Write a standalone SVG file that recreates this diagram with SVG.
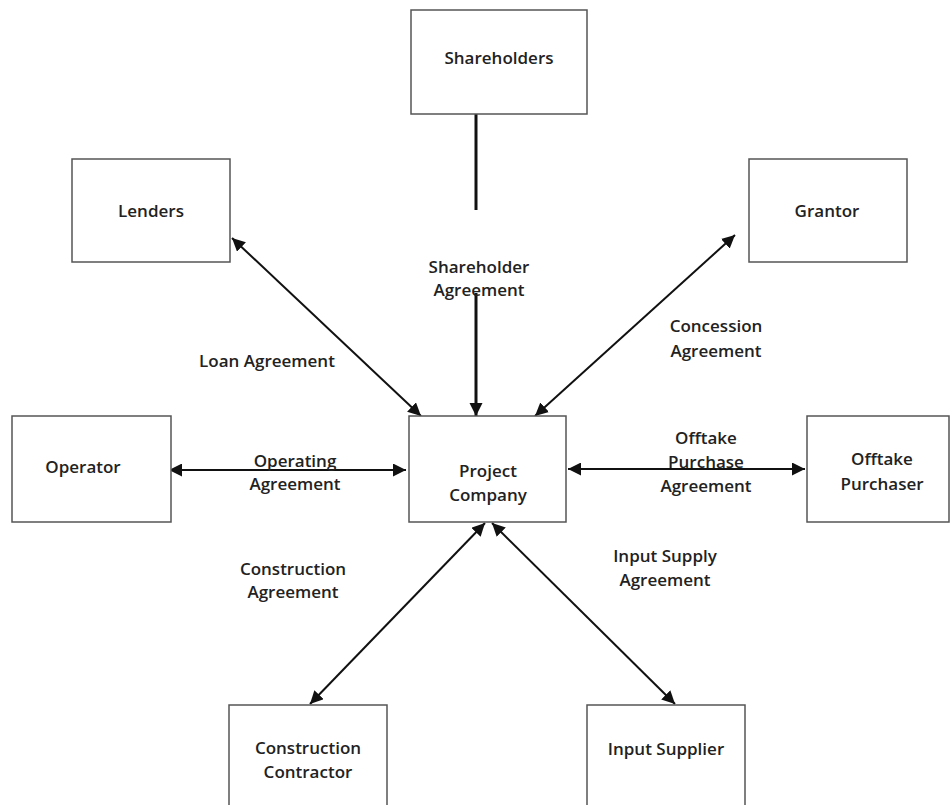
<svg xmlns="http://www.w3.org/2000/svg" width="952" height="805" viewBox="0 0 952 805">
<defs>
<marker id="ah" viewBox="0 0 10 10" refX="10" refY="5" markerWidth="6.5" markerHeight="6.5" orient="auto-start-reverse" markerUnits="strokeWidth">
<path d="M0,0 L10,5 L0,10 z" fill="#111"/>
</marker>
<marker id="ah2" viewBox="0 0 10 10" refX="10" refY="5" markerWidth="4.5" markerHeight="4.5" orient="auto-start-reverse" markerUnits="strokeWidth">
<path d="M0,0 L10,5 L0,10 z" fill="#111"/>
</marker>
</defs>
<style>
.box{fill:#fff;stroke:#555;stroke-width:1.5}
.t{font-family:"Open Sans","Liberation Sans",sans-serif;font-size:17px;font-weight:600;fill:#222;text-anchor:middle;dominant-baseline:central}
.c{stroke:#111;stroke-width:2;fill:none}
</style>
<rect width="952" height="805" fill="#fff"/>
<g id="connectors">
<line class="c" x1="476" y1="114" x2="476" y2="210" style="stroke-width:3"/>
<line class="c" x1="476" y1="293" x2="476" y2="416" style="stroke-width:3" marker-end="url(#ah2)"/>
<line class="c" x1="232" y1="238" x2="421" y2="416" marker-start="url(#ah)" marker-end="url(#ah)"/>
<line class="c" x1="735" y1="235" x2="535" y2="416" marker-start="url(#ah)" marker-end="url(#ah)"/>
<line class="c" x1="169" y1="470" x2="406" y2="470" marker-start="url(#ah)" marker-end="url(#ah)"/>
<line class="c" x1="568" y1="469" x2="805" y2="469" marker-start="url(#ah)" marker-end="url(#ah)"/>
<line class="c" x1="485" y1="523" x2="310" y2="704" marker-start="url(#ah)" marker-end="url(#ah)"/>
<line class="c" x1="492" y1="523" x2="675" y2="704" marker-start="url(#ah)" marker-end="url(#ah)"/>
<text class="t" x="479" y="266">Shareholder</text>
<text class="t" x="479" y="289">Agreement</text>
<text class="t" x="267" y="360">Loan Agreement</text>
<text class="t" x="716" y="325">Concession</text>
<text class="t" x="716" y="350">Agreement</text>
<text class="t" x="295" y="460">Operating</text>
<text class="t" x="295" y="483">Agreement</text>
<text class="t" x="706" y="437">Offtake</text>
<text class="t" x="706" y="461">Purchase</text>
<text class="t" x="706" y="485">Agreement</text>
<text class="t" x="293" y="568">Construction</text>
<text class="t" x="293" y="591">Agreement</text>
<text class="t" x="665" y="555">Input Supply</text>
<text class="t" x="665" y="579">Agreement</text>
</g>
<g id="shareholders"><rect class="box" x="411" y="10" width="176" height="104"/><text class="t" x="499" y="57">Shareholders</text></g>
<g id="lenders"><rect class="box" x="72" y="159" width="158" height="103"/><text class="t" x="151" y="210">Lenders</text></g>
<g id="grantor"><rect class="box" x="749" y="159" width="158" height="103"/><text class="t" x="827" y="210">Grantor</text></g>
<g id="operator"><rect class="box" x="12" y="416" width="159" height="106"/><text class="t" x="83" y="466">Operator</text></g>
<g id="project-company"><rect class="box" x="409" y="416" width="157" height="106"/><text class="t" x="488" y="470">Project</text><text class="t" x="488" y="494">Company</text></g>
<g id="offtake-purchaser"><rect class="box" x="807" y="416" width="142" height="106"/><text class="t" x="882" y="458">Offtake</text><text class="t" x="882" y="483">Purchaser</text></g>
<g id="construction-contractor"><rect class="box" x="229" y="705" width="158" height="110"/><text class="t" x="308" y="747">Construction</text><text class="t" x="308" y="771">Contractor</text></g>
<g id="input-supplier"><rect class="box" x="587" y="705" width="158" height="110"/><text class="t" x="666" y="748">Input Supplier</text></g>
</svg>
